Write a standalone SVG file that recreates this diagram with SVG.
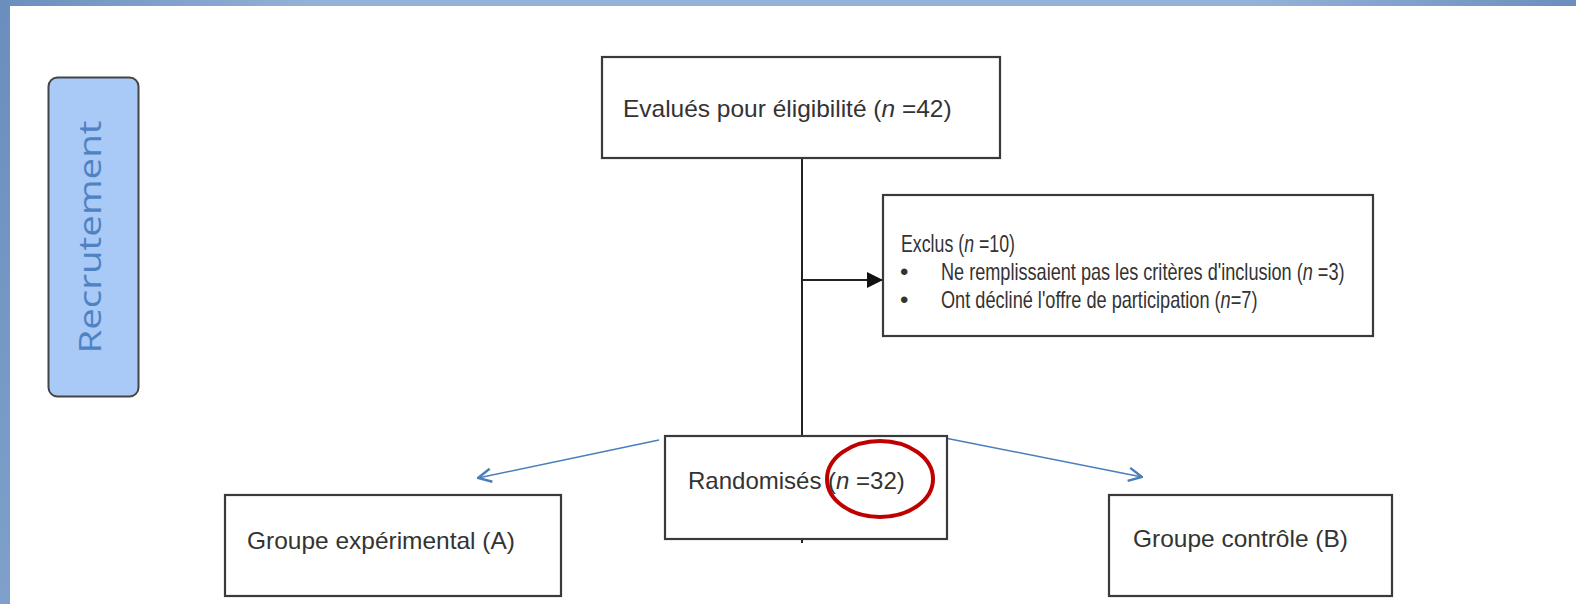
<svg xmlns="http://www.w3.org/2000/svg" width="1576" height="604" viewBox="0 0 1576 604">
<defs>
<linearGradient id="topg" x1="0" y1="0" x2="1" y2="0">
<stop offset="0" stop-color="#6a8ebd"/>
<stop offset="0.2" stop-color="#94b2d8"/>
<stop offset="0.8" stop-color="#94b2d8"/>
<stop offset="1" stop-color="#6a8ebd"/>
</linearGradient>
<linearGradient id="leftg" x1="0" y1="0" x2="0" y2="1">
<stop offset="0" stop-color="#6a8ebd"/>
<stop offset="1" stop-color="#7ea0cb"/>
</linearGradient>
<marker id="blk" viewBox="0 0 10 10" refX="10" refY="5" markerWidth="16" markerHeight="16" markerUnits="userSpaceOnUse" orient="auto">
<path d="M0,0 L10,5 L0,10 z" fill="#111"/>
</marker>
<marker id="blu" viewBox="0 0 12 12" refX="11" refY="6" markerWidth="16" markerHeight="16" markerUnits="userSpaceOnUse" orient="auto">
<path d="M1,1 L11,6 L1,11" fill="none" stroke="#4a7ebb" stroke-width="1.8"/>
</marker>
</defs>
<style>
.box{fill:#fff;stroke:#3a3a3a;stroke-width:2.2}
.t{font-family:"Liberation Sans",Arial,sans-serif;font-size:24px;fill:#333}
.s{font-family:"Liberation Sans",Arial,sans-serif;font-size:24px;fill:#333}
.i{font-style:italic}
.conn{stroke:#222;stroke-width:2;fill:none}
.blue{stroke:#4a7ebb;stroke-width:1.6;fill:none}
</style>
<rect x="0" y="0" width="1576" height="604" fill="#fff"/>
<rect x="0" y="0" width="1576" height="6" fill="url(#topg)"/>
<rect x="0" y="0" width="10" height="604" fill="url(#leftg)"/>

<g id="recrutement">
<rect x="48.5" y="77.5" width="90" height="319" rx="9" fill="#a9c9f7" stroke="#444" stroke-width="2"/>
<text transform="translate(101,237) rotate(-90)" text-anchor="middle" font-family="'Open Sans','Liberation Sans',sans-serif" font-size="31" fill="#4f82c2" textLength="233" lengthAdjust="spacingAndGlyphs">Recrutement</text>
</g>

<g id="connectors">
<line class="conn" x1="802" y1="159" x2="802" y2="436"/>
<line class="conn" x1="802" y1="539" x2="802" y2="543"/>
<line class="conn" x1="802" y1="280" x2="883" y2="280" marker-end="url(#blk)"/>
<line class="blue" x1="659" y1="440" x2="478" y2="478" marker-end="url(#blu)"/>
<line class="blue" x1="945" y1="438" x2="1142" y2="477" marker-end="url(#blu)"/>
</g>

<g id="evalues">
<rect class="box" x="602" y="57" width="398" height="101"/>
<text class="t" transform="translate(623,117) scale(1.02,1)">Evalués pour éligibilité (<tspan class="i">n</tspan> =42)</text>
</g>

<g id="exclus">
<rect class="box" x="883" y="195" width="490" height="141"/>
<text class="s" transform="translate(901,252) scale(0.74,1)">Exclus (<tspan class="i">n</tspan> =10)</text>
<text class="s" x="900" y="280">•</text>
<text class="s" transform="translate(941,280) scale(0.755,1)">Ne remplissaient pas les critères d'inclusion (<tspan class="i">n</tspan> =3)</text>
<text class="s" x="900" y="308">•</text>
<text class="s" transform="translate(941,308) scale(0.757,1)">Ont décliné l'offre de participation (<tspan class="i">n</tspan>=7)</text>
</g>

<g id="randomises">
<rect class="box" x="665" y="436" width="282" height="103"/>
<text class="t" x="688" y="489">Randomisés (<tspan class="i">n</tspan> =32)</text>
<ellipse cx="880" cy="479" rx="53" ry="38" fill="none" stroke="#c00000" stroke-width="4"/>
</g>

<g id="groupeA">
<rect class="box" x="225" y="495" width="336" height="101"/>
<text class="t" transform="translate(247,549) scale(1.02,1)">Groupe expérimental (A)</text>
</g>

<g id="groupeB">
<rect class="box" x="1109" y="495" width="283" height="101"/>
<text class="t" transform="translate(1133,547) scale(1.02,1)">Groupe contrôle (B)</text>
</g>
</svg>
